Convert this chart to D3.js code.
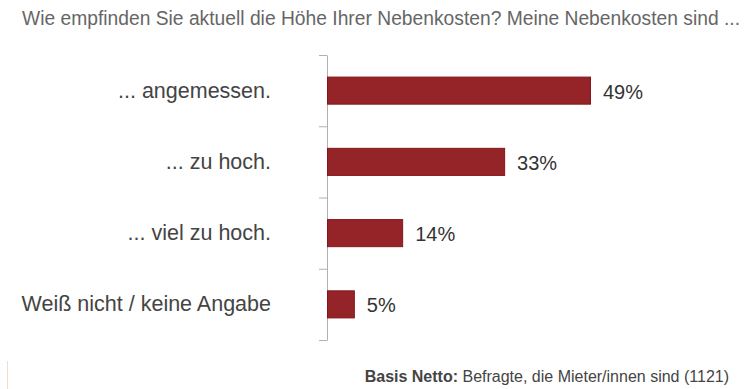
<!DOCTYPE html>
<html>
<head>
<meta charset="utf-8">
<script src="https://cdn.jsdelivr.net/npm/d3@7"></script>
<style>
  body { margin: 0; background: #fff; }
  text { font-family: "Liberation Sans", Arial, sans-serif; }
</style>
</head>
<body>
<div id="chart"></div>
<script>
const categories = ["... angemessen.", "... zu hoch.", "... viel zu hoch.", "Weiß nicht / keine Angabe"];
const values = [49, 33, 14, 5];
const titleText = "Wie empfinden Sie aktuell die Höhe Ihrer Nebenkosten? Meine Nebenkosten sind ...";
const footBold = "Basis Netto:";
const footText = " Befragte, die Mieter/innen sind (1121)";

var width = 750, height = 389;
const svg = d3.select("#chart").append("svg")
    .attr("width", width)
    .attr("height", height);

var margin = {top: 55, left: 327, bottom: 49};
var innerheight = height - margin.top - margin.bottom;

// title (narrow look: smaller font stretched a bit in height)
svg.append("text")
    .attr("transform", "translate(22,24.5) scale(1,1.08)")
    .attr("font-size", "18.5px")
    .attr("fill", "#666")
    .attr("textLength", 718)
    .attr("lengthAdjust", "spacingAndGlyphs")
    .text(titleText);

const g = svg.append("g")
    .attr("transform", "translate(" + margin.left + "," + margin.top + ")");

const xscale = d3.scaleLinear()
    .domain([0, 49])
    .range([0, 263]);

const yscale = d3.scaleBand()
    .domain(categories)
    .range([0, innerheight])
    .paddingInner(0.62)
    .paddingOuter(0.31);

// axis with ticks at band boundaries
const edges = d3.scaleLinear().domain([0, categories.length]).range([0, innerheight]);
const yaxisG = g.append("g")
    .call(d3.axisLeft(edges).ticks(categories.length).tickSize(8).tickFormat("").tickSizeOuter(0));
yaxisG.select(".domain").attr("stroke", "#b0b0b0");
yaxisG.selectAll(".tick line").attr("stroke", "#b0b0b0");

// bars
g.selectAll("rect.bar")
    .data(values)
    .enter()
    .append("rect")
    .attr("class", "bar")
    .attr("x", 0.5)
    .attr("y", (d, i) => yscale(categories[i]))
    .attr("width", d => xscale(d))
    .attr("height", yscale.bandwidth())
    .attr("fill", "#952429")
    .attr("stroke", "#84161b")
    .attr("stroke-width", 1);

// value labels
g.selectAll("text.val")
    .data(values)
    .enter()
    .append("text")
    .attr("class", "val")
    .attr("x", d => xscale(d) + 13)
    .attr("y", (d, i) => yscale(categories[i]) + yscale.bandwidth() / 2 + 8)
    .attr("font-size", "20px")
    .attr("fill", "#333")
    .text(d => d + "%");

// category labels
g.selectAll("text.cat")
    .data(categories)
    .enter()
    .append("text")
    .attr("class", "cat")
    .attr("x", -56)
    .attr("y", d => yscale(d) + yscale.bandwidth() / 2 + 7)
    .attr("text-anchor", "end")
    .attr("font-size", "21.5px")
    .attr("fill", "#444")
    .text(d => d);

// footer
svg.append("line")
    .attr("x1", 7.5).attr("x2", 7.5)
    .attr("y1", 361).attr("y2", height)
    .attr("stroke", "#f6dcc8");

const foot = svg.append("text")
    .attr("x", 729)
    .attr("y", 381.5)
    .attr("text-anchor", "end")
    .attr("font-size", "16px")
    .attr("fill", "#444");
foot.append("tspan").attr("font-weight", "bold").text(footBold);
foot.append("tspan").text(footText);
</script>
</body>
</html>
